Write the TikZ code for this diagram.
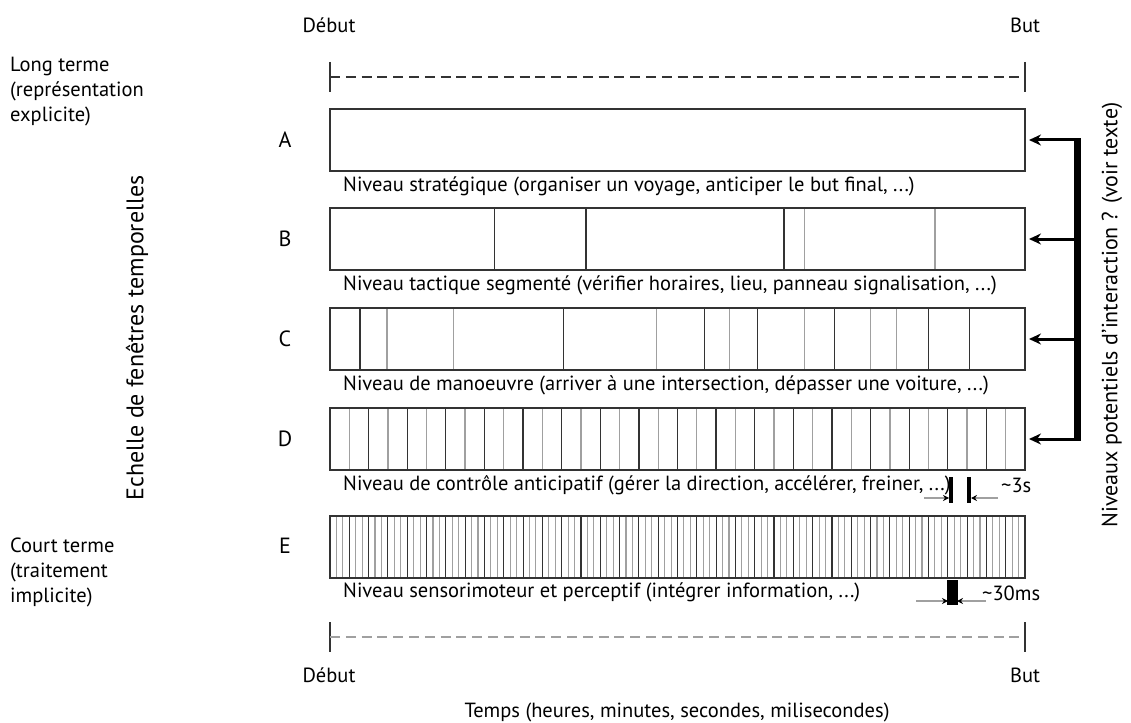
\documentclass[tikz,border=0pt]{standalone}
\usepackage{fontspec}
\setmainfont{PT Sans}
\usetikzlibrary{calc,arrows.meta}
\definecolor{dk}{HTML}{333333}
\definecolor{lg}{HTML}{A0A0A0}
\tikzset{
  bar/.style={draw=dk, line width=1.6pt, minimum width=695pt, minimum height=62pt, inner sep=0pt, outer sep=0pt, anchor=north west},
  dv/.style={draw=dk, line width=1.3pt},
  lv/.style={draw=lg, line width=1.3pt},
  txt/.style={font=\fontsize{20.5}{24}\selectfont, inner sep=0pt, anchor=west},
  lbl/.style={font=\fontsize{22}{24}\selectfont, inner sep=0pt},
  side/.style={font=\fontsize{20.5}{25}\selectfont, inner sep=0pt, anchor=west, align=left},
  big/.style={font=\fontsize{24}{28}\selectfont, inner sep=0pt, rotate=90},
  arr/.style={line width=3pt, -{Stealth[length=12pt,width=11pt]}, shorten >=4pt},
  tiny/.style={draw=lg, line width=1.2pt, -{Stealth[length=6pt,width=6pt,color=black]}},
}
\newcommand{\divs}[2]{\foreach \f/\s in {#2}{\draw[\s] ($(#1.north west)!\f!(#1.north east)$) -- ($(#1.south west)!\f!(#1.south east)$);}}
\begin{document}
\begin{tikzpicture}[x=1pt,y=-1pt]
\useasboundingbox (0,0) rectangle (1131,722);
% top scale
\node[txt, anchor=center] (deb1) at (329,25) {Début};
\node[txt, anchor=center] (but1) at (1025,25) {But};
\coordinate (t1l) at (330,77); \coordinate (t1r) at (1025,77);
\draw[dk, line width=1.3pt] ($(t1l)+(0,-15)$) -- ($(t1l)+(0,15)$);
\draw[dk, line width=1.3pt] ($(t1r)+(0,-15)$) -- ($(t1r)+(0,15)$);
\draw[dk, line width=1.2pt, dash pattern=on 10pt off 5.8pt] (t1l) -- (t1r);
% left labels
\node[side] (long) at (10,92) {Long terme\\(représentation\\explicite)};
\node[side] (court) at (10,572) {Court terme\\(traitement\\implicite)};
\node[big] (ech) at (137,338) {Echelle de fenêtres temporelles};
% bars
\node[bar] (barA) at (330,109) {};
\node[bar] (barB) at (330,208) {};
\node[bar] (barC) at (330,308) {};
\node[bar] (barD) at (330,408) {};
\node[bar] (barE) at (330,516) {};
\node[lbl] (lA) at (285,140) {A};
\node[lbl] (lB) at (285,239) {B};
\node[lbl] (lC) at (285,339) {C};
\node[lbl] (lD) at (285,439) {D};
\node[lbl] (lE) at (285,546) {E};
\divs{barB}{0.2364/dv,0.3684/dv,0.6533/dv,0.6829/lv,0.8706/lv}
\divs{barC}{0.0433/dv,0.0821/lv,0.1779/lv,0.3355/dv,0.4701/lv,0.5391/dv,0.5745/lv,0.6146/dv,0.6829/lv,0.7262/dv,0.7781/lv,0.8155/lv,0.8608/dv,0.9206/dv}
\foreach \i in {1,...,35}{
  \pgfmathsetmacro{\f}{\i/36}
  \pgfmathtruncatemacro{\m}{mod(\i,2)}
  \ifnum\m=0 \def\s{dv}\else\def\s{lv}\fi
  \draw[\s] ($(barD.north west)!\f!(barD.north east)$) -- ($(barD.south west)!\f!(barD.south east)$);
}
\foreach \i in {1,...,107}{
  \pgfmathsetmacro{\f}{\i/108}
  \pgfmathtruncatemacro{\m}{mod(\i,3)}
  \ifnum\m=0 \def\s{dv}\else\def\s{lv}\fi
  \draw[\s, line width=1.1pt] ($(barE.north west)!\f!(barE.north east)$) -- ($(barE.south west)!\f!(barE.south east)$);
}
\node[bar, fill=none] at (330,109) {};
\node[bar, fill=none] at (330,208) {};
\node[bar, fill=none] at (330,308) {};
\node[bar, fill=none] at (330,408) {};
\node[bar, fill=none] at (330,516) {};
% captions
\node[txt] (cA) at (343,186) {Niveau stratégique (organiser un voyage, anticiper le but final, ...)};
\node[txt] (cB) at (343,285) {Niveau tactique segmenté (vérifier horaires, lieu, panneau signalisation, ...)};
\node[txt] (cC) at (343,385) {Niveau de manoeuvre (arriver à une intersection, dépasser une voiture, ...)};
\node[txt] (cD) at (343,485) {Niveau de contrôle anticipatif (gérer la direction, accélérer, freiner, ...)};
\node[txt] (cE) at (343,592) {Niveau sensorimoteur et perceptif (intégrer information, ...)};
% D marker
\coordinate (dm1a) at (951,477); \coordinate (dm1b) at (951,503);
\coordinate (dm2a) at (969,477); \coordinate (dm2b) at (969,503);
\draw[black, line width=4pt] (dm1a) -- (dm1b);
\draw[black, line width=4pt] (dm2a) -- (dm2b);
\coordinate (dl) at (924,498); \coordinate (dr) at (998,498);
\draw[tiny] (dl) -- ($(dm1a|-dl)+(-2,0)$);
\draw[tiny] (dr) -- ($(dm2a|-dr)+(2,0)$);
\node[txt] (t3s) at (1001,485) {\textasciitilde3s};
% E marker
\fill[black] (947,580) rectangle (958,605);
\coordinate (el) at (916,601); \coordinate (er) at (986,601);
\draw[tiny] (el) -- (948,601);
\draw[tiny] (er) -- (957,601);
\node[txt] (t30) at (982,593) {\textasciitilde30ms};
% right bracket
\coordinate (bt) at (1077,140);
\coordinate (bb) at (1077,439);
\draw[black, line width=7pt] ($(bt)+(0,-1.5)$) -- ($(bb)+(0,1.5)$);
\draw[arr] (bt) -- (barA.east);
\draw[arr] (bt|-barB.east) -- (barB.east);
\draw[arr] (bt|-barC.east) -- (barC.east);
\draw[arr] (bb) -- (barD.east);
\node[big, font=\fontsize{22}{26}\selectfont] (niv) at (1112,315) {Niveaux potentiels d'interaction ? (voir texte)};
% bottom scale
\coordinate (t2l) at (330,637); \coordinate (t2r) at (1025,637);
\draw[dk, line width=1.3pt] ($(t2l)+(0,-15)$) -- ($(t2l)+(0,15)$);
\draw[dk, line width=1.3pt] ($(t2r)+(0,-15)$) -- ($(t2r)+(0,15)$);
\draw[lg, line width=1.6pt, dash pattern=on 10pt off 5.8pt] (t2l) -- (t2r);
\node[txt, anchor=center] (deb2) at (329,675) {Début};
\node[txt, anchor=center] (but2) at (1025,675) {But};
\node[txt, anchor=center] (temps) at (677,712) {Temps (heures, minutes, secondes, milisecondes)};
\end{tikzpicture}
\end{document}
